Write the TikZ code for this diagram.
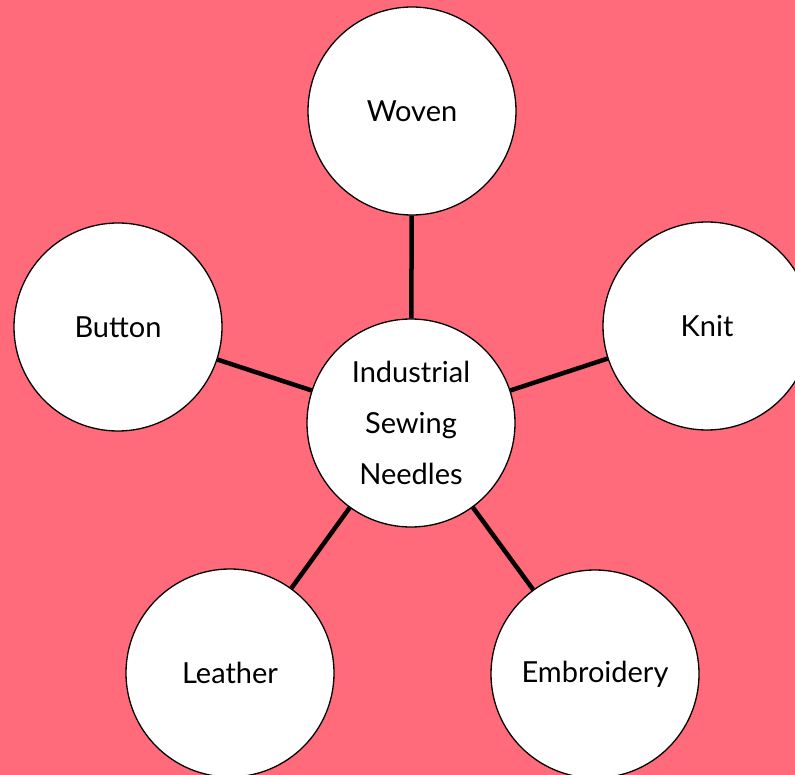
\documentclass[tikz,border=0pt]{standalone}
\usepackage{fontspec}
\setmainfont{Lato}
\definecolor{bgpink}{RGB}{255,107,122}
\tikzset{
  bubble/.style={circle, draw=black, line width=1.3pt, fill=white, minimum size=208pt, inner sep=0pt, align=center, font=\fontsize{29}{51}\selectfont},
  spoke/.style={line width=4.5pt, black}
}
\begin{document}
\begin{tikzpicture}[x=1pt,y=-1pt]
\fill[bgpink] (0,0) rectangle (795,775);
\useasboundingbox (0,0) rectangle (795,775);
\node[bubble] (c) at (411,423) {Industrial\\Sewing\\Needles};
\node[bubble] (woven) at (412,111) {Woven};
\node[bubble] (knit) at (707,326) {Knit};
\node[bubble] (button) at (118,327) {Button};
\node[bubble] (leather) at (230,673) {Leather};
\node[bubble] (emb) at (595,674) {Embroidery};
\foreach \n in {woven,knit,button,leather,emb}{
  \draw[spoke] (c) -- (\n);
}
\end{tikzpicture}
\end{document}
